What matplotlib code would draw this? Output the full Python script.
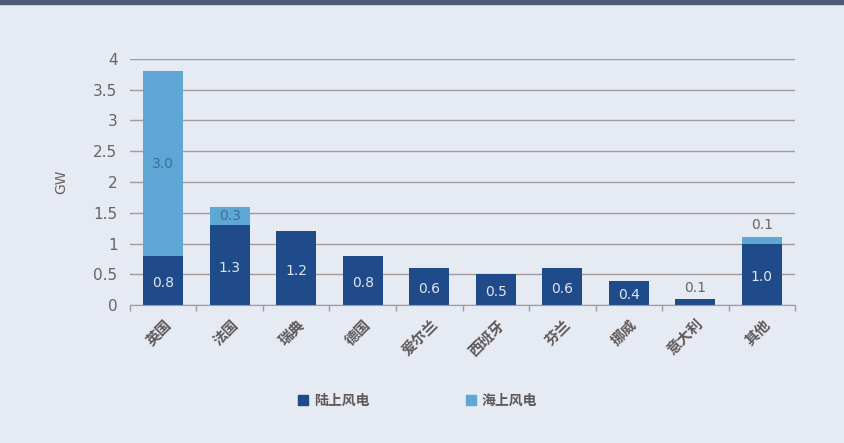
import numpy as np
import matplotlib
matplotlib.use("Agg")
import matplotlib.pyplot as plt
from matplotlib.patches import Patch

plt.rcParams['font.family'] = ['DejaVu Sans', 'Noto Sans CJK SC']

# 各国风电装机 (GW)
countries = ['英国', '法国', '瑞典', '德国', '爱尔兰', '西班牙', '芬兰', '挪威', '意大利', '其他']
onshore = [0.8, 1.3, 1.2, 0.8, 0.6, 0.5, 0.6, 0.4, 0.1, 1.0]
offshore = [3.0, 0.3, 0, 0, 0, 0, 0, 0, 0, 0.1]
legend_labels = ['陆上风电', '海上风电']
yticks = [0, 0.5, 1, 1.5, 2, 2.5, 3, 3.5, 4]
ytick_labels = ['0', '0.5', '1', '1.5', '2', '2.5', '3', '3.5', '4']

dark = '#1f4b8a'
light = '#5ea6d3'
bg = '#e6eaf3'
txt = '#6b6262'
grid = '#a39b99'
cjk = ['Noto Sans CJK SC', 'DejaVu Sans']

fig = plt.figure(figsize=(8.44, 4.43), dpi=100, facecolor=bg)
# dark band along the top edge
fig.patches.append(plt.Rectangle((0, 0.99), 1, 0.01, transform=fig.transFigure,
                                 color='#4b5b74', zorder=0))

ax = fig.add_axes([0.154, 0.311, 0.788, 0.556])
ax.set_facecolor(bg)

x = np.arange(len(countries))
width = 0.6
ax.bar(x, onshore, width, color=dark, zorder=3)
ax.bar(x, offshore, width, bottom=onshore, color=light, zorder=3)

# value labels
for i in range(len(countries)):
    if onshore[i] >= 0.3:
        ax.text(x[i], onshore[i] / 2 - 0.04, f'{onshore[i]:.1f}', ha='center', va='center',
                color='#dfe6f0', fontsize=10, zorder=4)
    else:
        ax.text(x[i], onshore[i] + 0.18, f'{onshore[i]:.1f}', ha='center', va='center',
                color=txt, fontsize=10, zorder=4)
    if offshore[i] >= 0.25:
        ax.text(x[i], onshore[i] + offshore[i] / 2, f'{offshore[i]:.1f}', ha='center',
                va='center', color='#3f6f98', fontsize=10, zorder=4)
    elif offshore[i] > 0:
        ax.text(x[i], onshore[i] + offshore[i] + 0.2, f'{offshore[i]:.1f}', ha='center',
                va='center', color=txt, fontsize=10, zorder=4)

ax.set_xlim(-0.5, len(countries) - 0.5)
ax.set_ylim(0, 4)
ax.set_yticks(yticks)
ax.set_yticklabels(ytick_labels)
ax.grid(axis='y', color=grid, linewidth=1, zorder=1)
ax.tick_params(axis='y', length=0, pad=9, labelsize=11, colors=txt)

ax.set_xticks(x)
ax.set_xticklabels(countries, rotation=45, ha='right', rotation_mode='anchor',
                   fontsize=10.5, fontweight='bold', color='#5e5858', family=cjk)
ax.tick_params(axis='x', which='major', length=0, pad=8)
ax.set_xticks(np.arange(-0.5, len(countries), 1), minor=True)
ax.tick_params(axis='x', which='minor', length=4, color=grid, width=1)

for s in ['top', 'right', 'left']:
    ax.spines[s].set_visible(False)
ax.spines['bottom'].set_color(grid)
ax.spines['bottom'].set_zorder(4)

ax.set_ylabel('GW', color=txt, fontsize=10, labelpad=18)

handles = [Patch(color=dark), Patch(color=light)]
fig.legend(handles, legend_labels, loc='center', bbox_to_anchor=(0.495, 0.095), ncol=2,
           frameon=False, handlelength=0.7, handleheight=0.7,
           columnspacing=7, handletextpad=0.4, labelcolor='#5e5858',
           prop={'weight': 'bold', 'size': 10, 'family': cjk})

fig.savefig('out.png', dpi=100, facecolor=bg)
